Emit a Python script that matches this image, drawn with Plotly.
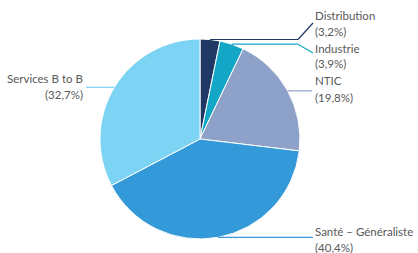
import math
import plotly.graph_objects as go

categories = ["Distribution", "Industrie", "NTIC", "Santé – Généraliste", "Services B to B"]
values = [3.2, 3.9, 19.8, 40.4, 32.7]
value_labels = ["(3,2%)", "(3,9%)", "(19,8%)", "(40,4%)", "(32,7%)"]
colors = ["#1f3864", "#14a6c6", "#8ea2c9", "#3399d8", "#7dd3f3"]

W, H = 418, 253
CX, CY, R = 200, 139, 100

def px(x):
    return x / W

def py(y):
    return 1 - y / H

fig = go.Figure(go.Pie(
    labels=categories, values=values, sort=False, direction="clockwise",
    rotation=0, textinfo="none", hoverinfo="label+percent",
    marker=dict(colors=colors, line=dict(color="white", width=1)),
    domain=dict(x=[px(CX - R), px(CX + R)], y=[py(CY + R), py(CY - R)]),
    showlegend=False,
))

# label placement (layout): elbow x, text position, diagonal end y, anchor
label_layout = [
    dict(ex=298, tx=313, ty1=16, endy=23, anchor="left"),
    dict(ex=298, tx=313, ty1=48, endy=53, anchor="left"),
    dict(ex=312, tx=313, ty1=81, endy=None, anchor="left"),
    dict(ex=313, tx=313, ty1=231, endy=None, anchor="left"),
    dict(ex=86, tx=85, ty1=78, endy=None, anchor="right"),
]

shapes = []
annotations = []
total = sum(values)
cum = 0.0
for i, v in enumerate(values):
    mid = (cum + v / 2) / total * 2 * math.pi
    cum += v
    sx = CX + R * math.sin(mid)
    sy = CY - R * math.cos(mid)
    L = label_layout[i]
    shapes.append(dict(type="line", xref="paper", yref="paper",
                       x0=px(sx), y0=py(sy), x1=px(L["ex"]), y1=py(sy),
                       line=dict(color=colors[i], width=1.2)))
    if L["endy"] is not None:
        shapes.append(dict(type="line", xref="paper", yref="paper",
                           x0=px(L["ex"]), y0=py(sy), x1=px(L["tx"]), y1=py(L["endy"]),
                           line=dict(color=colors[i], width=1.2)))
    for j, txt in enumerate([categories[i], value_labels[i]]):
        annotations.append(dict(
            text=txt, xref="paper", yref="paper", showarrow=False,
            x=px(L["tx"]), y=py(L["ty1"] + j * 16),
            xanchor=L["anchor"], yanchor="middle",
            font=dict(family="Lato, Open Sans, sans-serif", size=11.5, color="#595959"),
        ))

fig.update_layout(
    width=W, height=H, margin=dict(l=0, r=0, t=0, b=0),
    paper_bgcolor="white", plot_bgcolor="white",
    shapes=shapes, annotations=annotations,
)

fig.write_html("out.html", config={"displayModeBar": False},
               post_script="document.body.style.margin='0';")
